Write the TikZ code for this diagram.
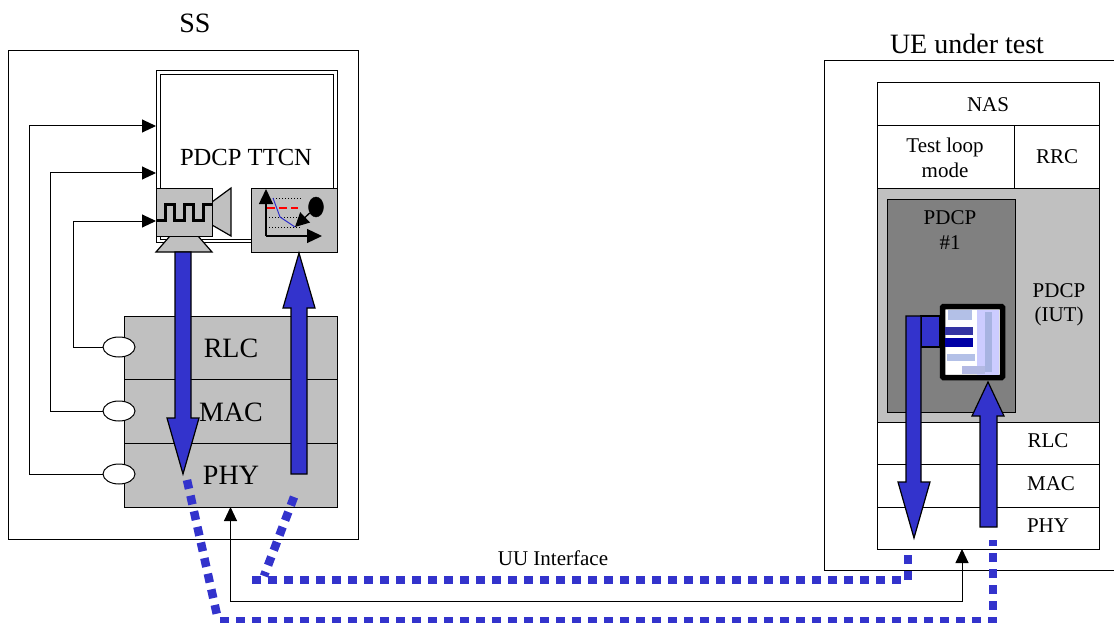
\documentclass[tikz,border=0pt]{standalone}
\usepackage{fontspec}
\setmainfont{Liberation Serif}
\usepackage{xcolor}
\usetikzlibrary{arrows.meta, positioning, calc, shapes.geometric}
\definecolor{flowblue}{HTML}{3333CC}
\definecolor{stackgrey}{HTML}{C0C0C0}
\definecolor{pdcpgrey}{HTML}{808080}
\newcommand{\bigfont}{\fontsize{28}{30}\selectfont}
\newcommand{\midfont}{\fontsize{24.6}{28}\selectfont}
\newcommand{\smallfont}{\fontsize{21}{24.5}\selectfont}
\tikzset{
  box/.style={draw,line width=1pt,inner sep=0pt,outer sep=0pt,anchor=north west},
  greybox/.style={box,fill=stackgrey},
  tap/.style={draw,line width=1pt,fill=white,ellipse,minimum width=32pt,minimum height=20pt,inner sep=0pt},
  link/.style={line width=1pt,-{Triangle[length=14pt,width=13pt]}},
  bigarrow/.style={draw,line width=1.2pt,fill=flowblue},
  uulink/.style={draw=flowblue,line width=8.5pt,dash pattern=on 9pt off 7pt},
  caption/.style={align=center,inner sep=0pt}
}
\begin{document}
\begin{tikzpicture}[x=1pt,y=-1pt]
  \useasboundingbox (0,0) rectangle (1114,623);
  % SS side
  \node[caption,font=\bigfont] (sstitle) at (195,23) {SS};
  \node[box,minimum width=350pt,minimum height=488pt] (ssbox) at (8,51) {};
  \node[box,minimum width=181pt,minimum height=171pt] (ttcnouter) at (156,71) {};
  \node[box,minimum width=173pt,minimum height=164pt] (ttcn) at (160,75) {};
  \node[caption,font=\midfont] (ttcnlabel) at (246,157) {PDCP TTCN};
  % stack
  \node[greybox,minimum width=213pt,minimum height=63pt] (rlcss) at (124,316) {};
  \node[greybox,minimum width=213pt,minimum height=64pt] (macss) at (124,379) {};
  \node[greybox,minimum width=213pt,minimum height=64pt] (physs) at (124,443) {};
  \node[caption,font=\bigfont] at (231,348) {RLC};
  \node[caption,font=\bigfont] at (231,412) {MAC};
  \node[caption,font=\bigfont] at (231,475) {PHY};
  \node[tap] (taprlc) at (119,347) {};
  \node[tap] (tapmac) at (119,411) {};
  \node[tap] (tapphy) at (119,474) {};
  % camera
  \draw[bigarrow,fill=stackgrey] (170,236) -- (198,236) -- (212,252) -- (156,252) -- cycle;
  \draw[bigarrow,fill=stackgrey] (212,202) -- (231,188) -- (231,236) -- (212,225) -- cycle;
  \node[greybox,minimum width=56pt,minimum height=48pt] (camera) at (156,188) {};
  \draw[line width=3pt] (camera.west) ++(0,8) -- ++(9,0) -- ++(0,-16) -- ++(9,0) -- ++(0,16)
    -- ++(10,0) -- ++(0,-16) -- ++(9,0) -- ++(0,16) -- ++(10,0) -- ++(0,-16) -- ++(9,0);
  % scope box
  \node[greybox,minimum width=86pt,minimum height=64pt] (scopebox) at (251,188) {};
  \coordinate (origin) at (266,236);
  \draw[line width=1pt,dotted] (273,198) -- (301,198);
  \draw[line width=1pt,dotted] (266,217) -- (301,217);
  \draw[line width=1pt,dotted] (266,227) -- (301,227);
  \draw[red,line width=1.8pt,dash pattern=on 8pt off 4pt] (267,208) -- (298,208);
  \draw[flowblue,line width=1pt] (273,198) -- (280,217) -- (295,227);
  \draw[line width=1.3pt,-{Triangle[length=15pt,width=14pt]}] (origin) -- (266,189);
  \draw[line width=1.3pt,-{Triangle[length=15pt,width=14pt]}] (origin) -- (322,236);
  \node[draw,fill=black,ellipse,minimum width=15pt,minimum height=20pt,inner sep=0pt] (blob) at (316,207) {};
  \draw[line width=1.3pt,-{Triangle[length=14pt,width=14pt]}] (blob) -- (295,227);
  % arrows into the test case
  \coordinate (inrlc) at (156,221);
  \coordinate (inmac) at (156,173);
  \coordinate (inphy) at (156,126);
  \draw[link] (taprlc.west) -- (73,347) -- (73,221) -- (inrlc);
  \draw[link] (tapmac.west) -- (50,411) -- (50,173) -- (inmac);
  \draw[link] (tapphy.west) -- (29,474) -- (29,126) -- (inphy);
  % big arrows
  \draw[bigarrow] (175,252) -- (191,252) -- (191,418) -- (199,418) -- (183,474) -- (167,418) -- (175,418) -- cycle;
  \draw[bigarrow] (291,474) -- (307,474) -- (307,308) -- (315,308) -- (299,253) -- (283,308) -- (291,308) -- cycle;
  % UE side
  \node[caption,font=\bigfont] (uetitle) at (967,44) {UE under test};
  \node[box,minimum width=290pt,minimum height=509pt] (uebox) at (824,61) {};
  \node[box,minimum width=222pt,minimum height=43pt] (nas) at (877,83) {};
  \node[caption,font=\smallfont] at (988,105) {NAS};
  \node[box,minimum width=137pt,minimum height=62pt] (testloop) at (877,126) {};
  \node[caption,font=\smallfont] at (945,158) {Test loop\\mode};
  \node[box,minimum width=85pt,minimum height=62pt] (rrc) at (1014,126) {};
  \node[caption,font=\smallfont] at (1057,157) {RRC};
  \node[greybox,minimum width=222pt,minimum height=234pt] (iut) at (877,188) {};
  \node[caption,font=\smallfont] at (1059,305) {PDCP\\(IUT)};
  \node[box,fill=pdcpgrey,minimum width=128pt,minimum height=213pt] (pdcpone) at (887,199) {};
  \node[caption,font=\smallfont] at (950,230) {PDCP\\\#1};
  \node[box,minimum width=222pt,minimum height=42pt] (rlcue) at (877,422) {};
  \node[box,minimum width=222pt,minimum height=43pt] (macue) at (877,464) {};
  \node[box,minimum width=222pt,minimum height=42pt] (phyue) at (877,507) {};
  \node[caption,font=\smallfont] at (1048,441) {RLC};
  \node[caption,font=\smallfont] at (1051,484) {MAC};
  \node[caption,font=\smallfont] at (1048,526) {PHY};
  % picture of the test function
  \node[box,fill=white,line width=5.5pt,rounded corners=1pt,minimum width=60pt,minimum height=71pt] (icon) at (942.5,306.5) {};
  \fill[blue!20!white] (977,310) rectangle (999,375);
  \fill[cyan!35!blue!35!white] (985,312) rectangle (992,372);
  \fill[cyan!40!blue!30!white] (948,310) rectangle (972,320);
  \fill[blue!55!black!80!white] (945,327) rectangle (973,335);
  \fill[blue!65!black] (945,338) rectangle (973,347);
  \fill[cyan!40!blue!30!white] (947,354) rectangle (975,361);
  \fill[cyan!30!blue!30!white] (962,366) rectangle (985,374);
  \draw[bigarrow] (921,316) rectangle (940,347);
  \draw[bigarrow] (906,316) -- (921,316) -- (921,482) -- (930,482) -- (914,538) -- (898,482) -- (906,482) -- cycle;
  \draw[bigarrow] (980,527) -- (997,527) -- (997,416) -- (1004,416) -- (988,382) -- (972,416) -- (980,416) -- cycle;
  % UU interface
  \coordinate (uestart) at (962,549);
  \coordinate (uubend) at (962,601);
  \draw[line width=1pt,{Triangle[length=14pt,width=13pt]}-{Triangle[length=14pt,width=13pt]}] (physs.south) -- (physs.south |- uubend) -- (uubend) -- (uestart);
  \node[caption,font=\smallfont] (uulabel) at (553,558) {UU Interface};
  \draw[uulink] (294,497) -- (264,576);
  \draw[uulink] (252,580) -- (908,580) -- (908,548);
  \draw[uulink] (187,480) -- (217,615);
  \draw[uulink] (220,621) -- (993,621) -- (993,540);
\end{tikzpicture}
\end{document}
